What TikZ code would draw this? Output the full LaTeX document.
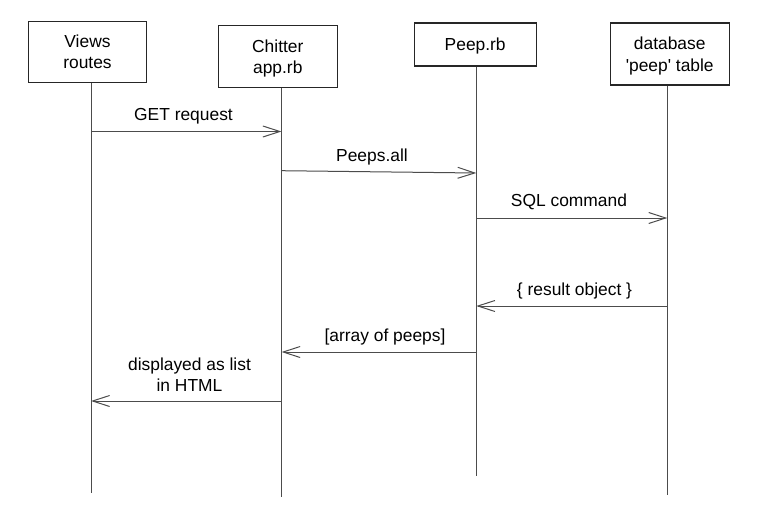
\documentclass[tikz,border=0pt]{standalone}
\usepackage{fontspec}
\setmainfont{Liberation Sans}
\usetikzlibrary{arrows.meta}
\begin{document}
\begin{tikzpicture}[x=1pt,y=-1pt,
  every node/.style={font=\fontsize{17.4}{21.5}\selectfont, text=black},
  actor/.style={draw=black!85, line width=1.1pt, inner sep=0pt, align=center, text depth=0pt},
  lifeline/.style={draw=black!70, line width=1pt},
  msg/.style={draw=black!70, line width=1pt, -{Straight Barb[length=17pt,width=11pt,line width=1pt]}},
  lbl/.style={anchor=base, inner sep=0pt}
]
\fill[white] (0,0) rectangle (767,514);
\useasboundingbox (0,0) rectangle (767,514);

% actors
\node[actor, minimum width=118.4pt, minimum height=61.7pt] (b1) at (87.5,51.9) {Views\\routes};
\node[actor, minimum width=119pt, minimum height=62.4pt] (b2) at (277.8,56.5) {Chitter\\app.rb};
\node[actor, minimum width=121.7pt, minimum height=43pt] (b3) at (475.2,44.5) {Peep.rb};
\node[actor, minimum width=119.3pt, minimum height=62pt] (b4) at (669.7,54) {database\\\textquotesingle peep\textquotesingle\ table};

% lifeline ends
\coordinate (l1) at (91,493);
\coordinate (l2) at (281.5,497);
\coordinate (l3) at (476.3,476);
\coordinate (l4) at (667.3,495);

\draw[lifeline] (b1.south -| l1) -- (l1);
\draw[lifeline] (b2.south -| l2) -- (l2);
\draw[lifeline] (b3.south -| l3) -- (l3);
\draw[lifeline] (b4.south -| l4) -- (l4);

% message end points
\coordinate (m1a) at (l1 |- 0,131.5);
\coordinate (m1b) at (l2 |- 0,131.5);
\coordinate (m2a) at (l2 |- 0,170.7);
\coordinate (m2b) at (l3 |- 0,173);
\coordinate (m3a) at (l3 |- 0,218);
\coordinate (m3b) at (l4 |- 0,218);
\coordinate (m4a) at (l4 |- 0,306);
\coordinate (m4b) at (l3 |- 0,306);
\coordinate (m5a) at (l3 |- 0,352);
\coordinate (m5b) at (l2 |- 0,352);
\coordinate (m6a) at (l2 |- 0,401);
\coordinate (m6b) at (l1 |- 0,401);

\draw[msg] (m1a) -- (m1b);
\draw[msg] (m2a) -- (m2b);
\draw[msg] (m3a) -- (m3b);
\draw[msg] (m4a) -- (m4b);
\draw[msg] (m5a) -- (m5b);
\draw[msg] (m6a) -- (m6b);

% labels
\node[lbl] (t1) at (183.5,120.7) {GET request};
\node[lbl] (t2) at (372,161) {Peeps.all};
\node[lbl] (t3) at (569,206) {SQL command};
\node[lbl] (t4) at (574.5,295) {\{ result object \}};
\node[lbl] (t5) at (385,341.7) {[array of peeps]};
\node[inner sep=0pt, align=center, text depth=0pt] (t6) at (189.5,374.5) {displayed as list\\in HTML};
\end{tikzpicture}
\end{document}
